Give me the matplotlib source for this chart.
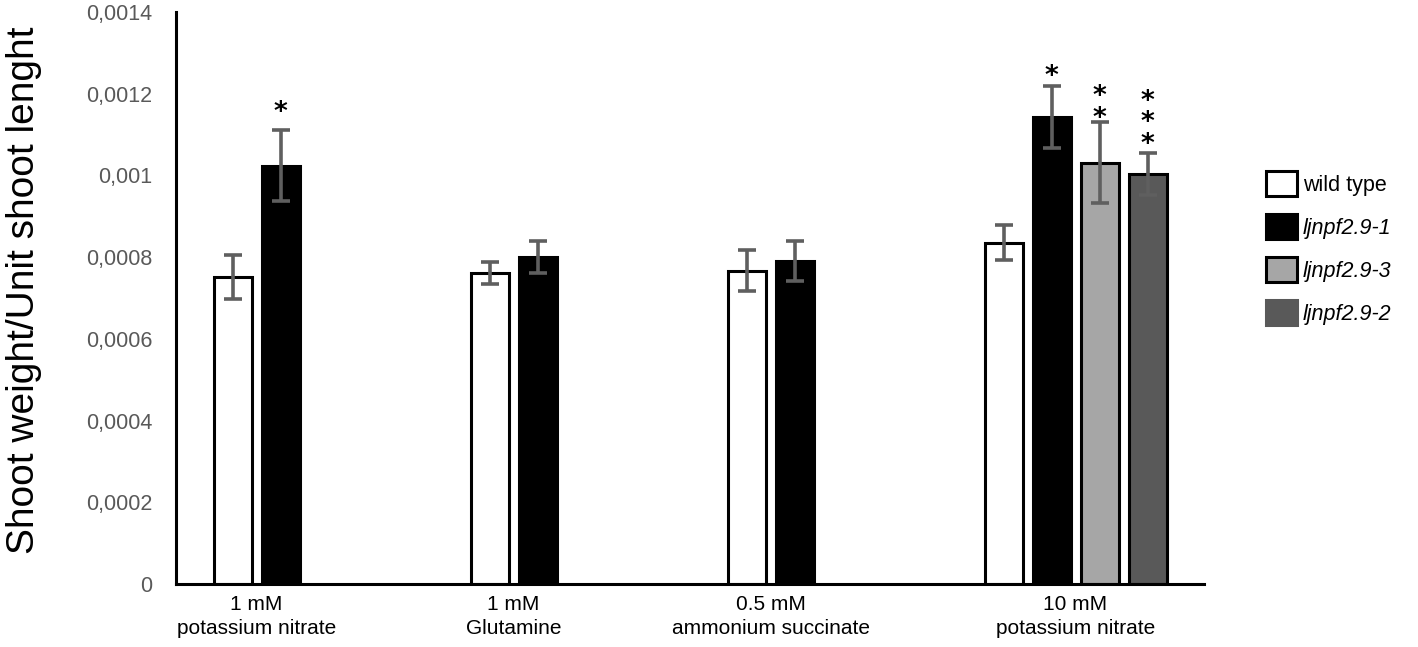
import matplotlib
matplotlib.use("Agg")
import matplotlib.pyplot as plt
import numpy as np
from matplotlib.patches import Patch

categories = ["1 mM\npotassium nitrate", "1 mM\nGlutamine", "0.5 mM\nammonium succinate", "10 mM\npotassium nitrate"]
series_names = ["wild type", "ljnpf2.9-1", "ljnpf2.9-3", "ljnpf2.9-2"]
wild_type = [0.000752, 0.000761, 0.000767, 0.000835]
wild_type_err = [0.0000543, 0.0000261, 0.0000510, 0.0000428]
ljnpf29_1 = [0.001024, 0.000800, 0.000791, 0.001143]
ljnpf29_1_err = [0.0000864, 0.0000383, 0.0000486, 0.0000758]
ljnpf29_3 = [np.nan, np.nan, np.nan, 0.001031]
ljnpf29_3_err = [np.nan, np.nan, np.nan, 0.0000994]
ljnpf29_2 = [np.nan, np.nan, np.nan, 0.001004]
ljnpf29_2_err = [np.nan, np.nan, np.nan, 0.0000521]
stars_1 = ["*", "", "", "*"]
stars_3 = ["", "", "", "*\n*"]
stars_2 = ["", "", "", "*\n*\n*"]
yticks = [0, 0.0002, 0.0004, 0.0006, 0.0008, 0.001, 0.0012, 0.0014]
ytick_labels = ["0", "0,0002", "0,0004", "0,0006", "0,0008", "0,001", "0,0012", "0,0014"]

fills = ["white", "black", "#a6a6a6", "#595959"]
err_color = "#5f5f5f"
# vertical nudges (points) for significance marks, per series and group
star_nudge = [None, [3, 0, 0, -3], [0, 0, 0, -7], [0, 0, 0, -4]]

fig = plt.figure(figsize=(14.18, 6.47), dpi=100)
ax = fig.add_axes([176/1418, 1-584/647, (1204-176)/1418, (584-12)/647])

x = np.arange(len(categories))
slot = 48/257
width = 38/257
all_vals = [wild_type, ljnpf29_1, ljnpf29_3, ljnpf29_2]
all_errs = [wild_type_err, ljnpf29_1_err, ljnpf29_3_err, ljnpf29_2_err]
all_stars = [None, stars_1, stars_3, stars_2]

for i, (vals, errs) in enumerate(zip(all_vals, all_errs)):
    pos = x + (i - 1.5) * slot
    ax.bar(pos, vals, width=width, color=fills[i], edgecolor="black", linewidth=2.2, zorder=2)
    ax.errorbar(pos, vals, yerr=errs, fmt="none", ecolor=err_color, elinewidth=2.6,
                capsize=6.5, capthick=2.6, zorder=3)
    if all_stars[i] is not None:
        for k, (p, v, e, s) in enumerate(zip(pos, vals, errs, all_stars[i])):
            if s:
                ax.annotate(s, (p, v + e), xytext=(0, star_nudge[i][k]), textcoords="offset points",
                            ha="center", va="bottom", fontsize=19, fontweight="bold",
                            linespacing=0.78, zorder=4, family="DejaVu Sans")

# category label positions: centered under the bars present in each group
label_pos = []
for k in range(len(categories)):
    present = [x[k] + (i - 1.5) * slot for i in range(4) if not np.isnan(all_vals[i][k])]
    label_pos.append(np.mean(present))

ax.set_xlim(-0.5, 3.5)
ax.set_ylim(0, 0.0014)
ax.set_yticks(yticks)
ax.set_yticklabels(ytick_labels, color="#595959", fontsize=15.5, family="Liberation Sans")
ax.set_xticks(label_pos)
ax.set_xticklabels(categories, fontsize=15, family="Liberation Sans", linespacing=1.35)
ax.tick_params(axis="both", length=0)
ax.tick_params(axis="y", pad=17)
ax.tick_params(axis="x", pad=8)
for side in ["top", "right"]:
    ax.spines[side].set_visible(False)
ax.spines["left"].set_linewidth(2.2)
ax.spines["bottom"].set_linewidth(2.2)

fig.text(24/1418, 1-290/647, "Shoot weight/Unit shoot lenght", rotation=90, ha="center", va="center",
         fontsize=28, family="Liberation Sans")

handles = [Patch(facecolor=fills[0], edgecolor="black", linewidth=2.2),
           Patch(facecolor=fills[1], edgecolor="black", linewidth=2.2),
           Patch(facecolor=fills[2], edgecolor="black", linewidth=2.2),
           Patch(facecolor=fills[3], edgecolor=fills[3], linewidth=2.2)]
leg = fig.legend(handles, series_names, loc="center left", bbox_to_anchor=(1247/1418, 1-248/647),
                 frameon=False, handlelength=1.4, handleheight=1.4,
                 handletextpad=0.3, labelspacing=0.84, prop={"family": "Liberation Sans", "size": 15.5})
for t in leg.get_texts()[1:]:
    t.set_fontstyle("italic")

fig.savefig("out.png", dpi=100)
